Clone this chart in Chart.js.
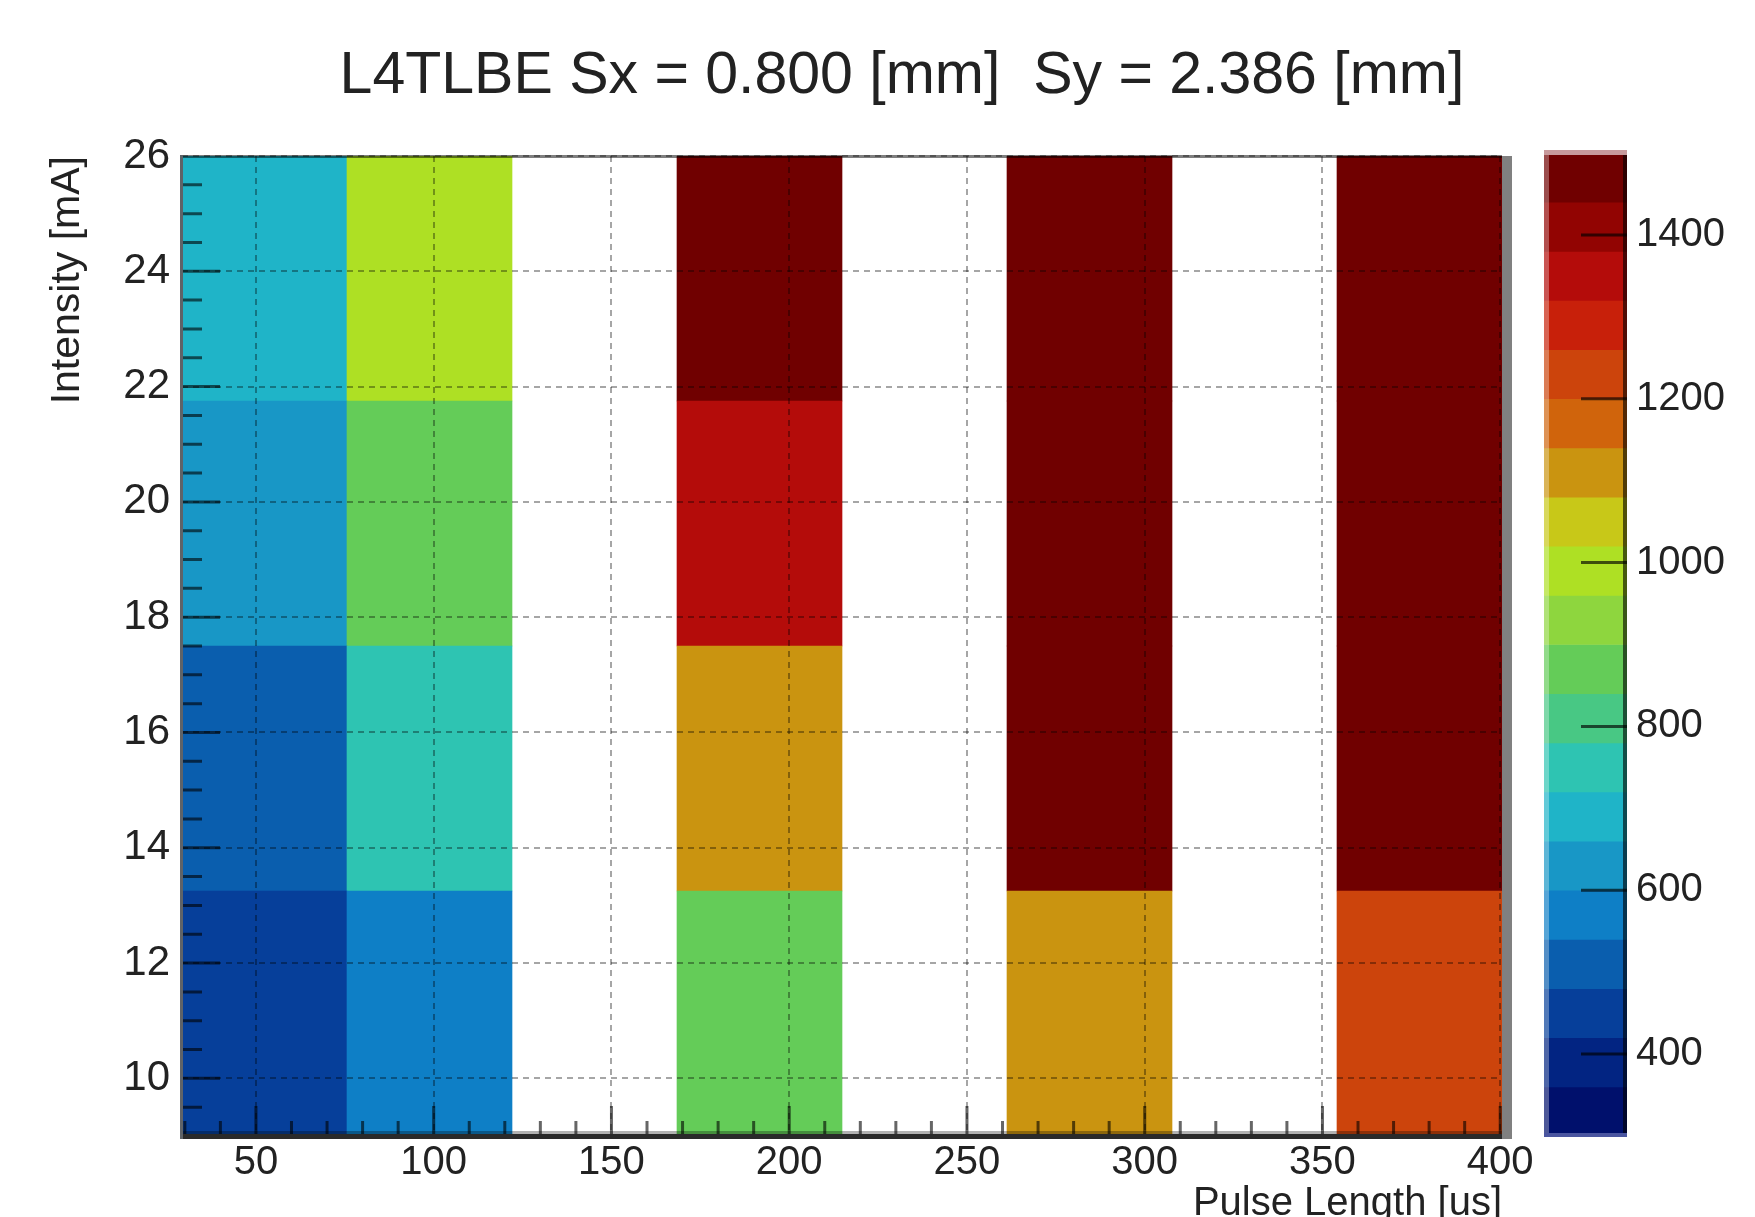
<!DOCTYPE html>
<html lang="en">
<head>
<meta charset="UTF-8">
<title>L4TLBE Sx = 0.800 [mm]  Sy = 2.386 [mm]</title>
<style>
  body { margin: 0; background: #fff; }
  #wrap { position: relative; width: 1755px; height: 1217px; background: #fff; }
  #wrap canvas { position: absolute; left: 0; top: 0; }
</style>
</head>
<body>
<div id="wrap">
  <canvas id="mapChart" width="1755" height="1217"></canvas>
  <canvas id="paletteChart" width="1755" height="1217"></canvas>
</div>

<script src="https://cdn.jsdelivr.net/npm/chart.js@4.4.1/dist/chart.umd.min.js"></script>
<script>
  // bin edges
  const pulseEdges = [29.2, 75.61, 122.03, 168.44, 214.85, 261.26, 307.68, 354.09, 400.5];
  const intensityEdges = [9, 13.25, 17.5, 21.75, 26];

  // cell values, one array per intensity bin (null = empty cell)
  const zRow1 = [450, 570, null, 870, null, 1110, null, 1230];
  const zRow2 = [510, 750, null, 1110, null, 1470, null, 1470];
  const zRow3 = [630, 870, null, 1350, null, 1470, null, 1470];
  const zRow4 = [690, 990, null, 1470, null, 1470, null, 1470];

  const pulseTicks = [50, 100, 150, 200, 250, 300, 350, 400];
  const intensityTicks = [10, 12, 14, 16, 18, 20, 22, 24, 26];
  const zTicks = [400, 600, 800, 1000, 1200, 1400];
  const zMin = 300;
  const zMax = 1500;

  const paletteColors = [
    '#00106c', '#022482', '#063f9a', '#0a5eae', '#0e7fc6',
    '#1897c6', '#1fb4c8', '#2ec4b2', '#48c884', '#64cc58',
    '#8ed63e', '#aee024', '#c8c818', '#ca9410', '#d0640c',
    '#cc440c', '#c8200a', '#b40c0a', '#920402', '#700000'
  ];

  const FONT = '"Liberation Sans", Arial, Helvetica, sans-serif';
  const TEXT = '#222';

  function colorFor(z) {
    if (z === null || z === undefined) return 'rgba(0,0,0,0)';
    let k = Math.floor((z - zMin) / (zMax - zMin) * paletteColors.length);
    k = Math.max(0, Math.min(paletteColors.length - 1, k));
    return paletteColors[k];
  }

  const rows = [zRow1, zRow2, zRow3, zRow4];
  const mapDatasets = rows.map((row, j) => ({
    data: row.map((z, i) => ({
      x: (pulseEdges[i] + pulseEdges[i + 1]) / 2,
      y: z === null ? null : [intensityEdges[j], intensityEdges[j + 1]],
      z: z
    })),
    backgroundColor: ctx => colorFor(ctx.raw ? ctx.raw.z : null),
    borderWidth: 0,
    grouped: false,
    barPercentage: 1,
    categoryPercentage: 1
  }));

  // ROOT style frame, inside tick marks and title
  const mapDecor = {
    id: 'mapDecor',
    afterDraw(chart) {
      const ctx = chart.ctx;
      const a = chart.chartArea;
      const xs = chart.scales.x, ys = chart.scales.y;
      ctx.save();

      // tick marks drawn inside the frame
      ctx.strokeStyle = 'rgba(0,0,0,0.6)';
      ctx.lineWidth = 3;
      ctx.beginPath();
      for (let v = 9.5; v < 26; v += 0.5) {
        const y = ys.getPixelForValue(v);
        const major = intensityTicks.includes(v);
        ctx.moveTo(a.left, y);
        ctx.lineTo(a.left + (major ? 38 : 20), y);
      }
      for (let v = 30; v <= 400; v += 10) {
        const x = xs.getPixelForValue(v);
        const major = pulseTicks.includes(v);
        ctx.moveTo(x, a.bottom - 2);
        ctx.lineTo(x, a.bottom - (major ? 30 : 15));
      }
      ctx.stroke();

      // frame
      ctx.fillStyle = 'rgba(0,0,0,0.5)';
      ctx.fillRect(a.left, a.top - 1, a.right - a.left, 3);
      ctx.fillStyle = 'rgba(0,0,0,0.3)';
      ctx.fillRect(a.left, a.bottom - 5, a.right - a.left, 3);
      ctx.fillStyle = '#2a2a2a';
      ctx.fillRect(a.left, a.bottom - 2, a.right - a.left, 5);
      ctx.fillStyle = '#5f6368';
      ctx.fillRect(a.left - 2, a.top - 1, 3, a.bottom - a.top + 4);
      ctx.fillStyle = '#808080';
      ctx.fillRect(a.right, a.top, 10, a.bottom - a.top + 3);

      // title
      ctx.fillStyle = TEXT;
      ctx.font = '59px ' + FONT;
      ctx.textAlign = 'center';
      ctx.textBaseline = 'alphabetic';
      ctx.fillText('L4TLBE Sx = 0.800 [mm]  Sy = 2.386 [mm]', 902, 93);
      ctx.restore();
    }
  };

  new Chart(document.getElementById('mapChart'), {
    type: 'bar',
    data: { datasets: mapDatasets },
    options: {
      responsive: false,
      animation: false,
      events: [],
      layout: { padding: { top: 156, right: 253, left: 0, bottom: 0 } },
      plugins: { legend: { display: false }, tooltip: { enabled: false }, title: { display: false } },
      scales: {
        x: {
          type: 'linear',
          min: pulseEdges[0],
          max: pulseEdges[pulseEdges.length - 1],
          offset: false,
          afterBuildTicks: s => { s.ticks = pulseTicks.map(v => ({ value: v })); },
          afterFit: s => { s.height = 81; },
          grid: { z: 1, offset: false, drawTicks: false, color: 'rgba(0,0,0,0.35)', lineWidth: 2 },
          border: { display: false, dash: [6, 5] },
          ticks: { padding: 3, color: TEXT, font: { family: FONT, size: 40 }, maxRotation: 0, autoSkip: false },
          title: {
            display: true, text: 'Pulse Length [us]', align: 'end', color: TEXT,
            font: { family: FONT, size: 40, lineHeight: 0.65 }, padding: { top: 0, bottom: 0 }
          }
        },
        y: {
          type: 'linear',
          min: intensityEdges[0],
          max: intensityEdges[intensityEdges.length - 1],
          afterBuildTicks: s => { s.ticks = intensityTicks.map(v => ({ value: v })); },
          afterFit: s => { s.width = 182; },
          grid: { z: 1, drawTicks: false, color: 'rgba(0,0,0,0.35)', lineWidth: 2 },
          border: { display: false, dash: [6, 5] },
          ticks: { padding: 12, color: TEXT, font: { family: FONT, size: 42 }, autoSkip: false },
          title: {
            display: true, text: 'Intensity [mA]', align: 'end', color: TEXT,
            font: { family: FONT, size: 41 }, padding: { top: 43, bottom: 0 }
          }
        }
      }
    },
    plugins: [mapDecor]
  });

  // colour palette on the right
  const step = (zMax - zMin) / paletteColors.length;
  const paletteDecor = {
    id: 'paletteDecor',
    afterDraw(chart) {
      const ctx = chart.ctx;
      const a = chart.chartArea;
      const ys = chart.scales.y;
      ctx.save();
      ctx.fillStyle = 'rgba(255,255,255,0.3)';
      ctx.fillRect(a.left, a.top, 5, a.bottom - a.top);
      ctx.fillStyle = 'rgba(0,0,0,0.6)';
      ctx.fillRect(a.right - 4, a.top, 4, a.bottom - a.top);
      ctx.fillStyle = '#c89a9c';
      ctx.fillRect(a.left, a.top - 3, a.right - a.left, 5);
      ctx.fillStyle = '#4a55a0';
      ctx.fillRect(a.left, a.bottom - 3, a.right - a.left, 4);
      ctx.strokeStyle = 'rgba(0,0,0,0.65)';
      ctx.lineWidth = 3;
      ctx.beginPath();
      zTicks.forEach(v => {
        const y = ys.getPixelForValue(v);
        ctx.moveTo(a.right, y);
        ctx.lineTo(a.right - 46, y);
      });
      ctx.stroke();
      ctx.restore();
    }
  };

  new Chart(document.getElementById('paletteChart'), {
    type: 'bar',
    data: {
      datasets: [{
        data: paletteColors.map((c, k) => ({ x: 0, y: [zMin + k * step, zMin + (k + 1) * step] })),
        backgroundColor: paletteColors,
        borderWidth: 0,
        grouped: false,
        barPercentage: 1,
        categoryPercentage: 1
      }]
    },
    options: {
      responsive: false,
      animation: false,
      events: [],
      layout: { padding: { top: 153, right: 0, left: 1544, bottom: 81 } },
      plugins: { legend: { display: false }, tooltip: { enabled: false } },
      scales: {
        x: {
          type: 'linear', min: -0.5, max: 0.5, offset: false, display: false,
          afterBuildTicks: s => { s.ticks = [{ value: -0.5 }, { value: 0.5 }]; }
        },
        y: {
          type: 'linear',
          position: 'right',
          min: zMin,
          max: zMax,
          afterBuildTicks: s => { s.ticks = zTicks.map(v => ({ value: v })); },
          afterFit: s => { s.width = 128; },
          grid: { display: false, drawTicks: false },
          border: { display: false },
          ticks: {
            padding: 9, color: TEXT, font: { family: FONT, size: 40 }, autoSkip: false,
            callback: v => String(v)
          }
        }
      }
    },
    plugins: [paletteDecor]
  });
</script>
</body>
</html>
